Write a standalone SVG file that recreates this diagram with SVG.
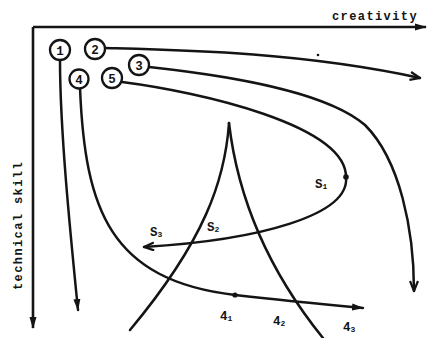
<svg xmlns="http://www.w3.org/2000/svg" width="430" height="338" viewBox="0 0 430 338">
<style>
.ln{fill:none;stroke:#141414;stroke-width:2.5;stroke-linecap:round}
.ax{fill:none;stroke:#141414;stroke-width:2.6}
.c{fill:#fff;stroke:#141414;stroke-width:2.3}
.t{font-family:"Liberation Mono",monospace;font-weight:bold;fill:#141414}
.lab{font-size:12px;letter-spacing:1.4px}
.num{font-size:12.5px;text-anchor:middle}
.sm{font-size:12.5px}
.sub{font-size:8px}
.dot{fill:#141414}
</style>
<defs>
<marker id="af" viewBox="0 0 12 8" refX="11" refY="4" markerWidth="12" markerHeight="8" markerUnits="userSpaceOnUse" orient="auto">
<path d="M0,0.5 L12,4 L0,7.5 z" fill="#141414"/>
</marker>
<marker id="ao" viewBox="0 0 12 10" refX="11" refY="5" markerWidth="12" markerHeight="10" markerUnits="userSpaceOnUse" orient="auto">
<path d="M1,1 L11,5 L1,9" fill="none" stroke="#141414" stroke-width="2.2"/>
</marker>
</defs>
<g id="axes">
<path class="ax" d="M33,27 L426,27" marker-end="url(#af)"/>
<path class="ax" d="M33,27 L33,328" marker-end="url(#af)"/>
<text class="t lab" x="332" y="20">creativity</text>
<text class="t lab" transform="translate(22,290) rotate(-90)" x="0" y="0">technical skill</text>
</g>
<g id="connectors">
<path class="ln" d="M60,60 C60,130 70,230 78,310" marker-end="url(#af)"/>
<path class="ln" d="M105,48 C180,50 300,52 420,78" marker-end="url(#ao)"/>
<circle class="dot" cx="318" cy="55" r="1.3"/>
<path class="ln" d="M149,67 C250,78 330,95 365,125 C400,160 414,230 414,291" marker-end="url(#ao)"/>
<path class="ln" d="M122,82 C200,92 346,125 346,177 C350,215 260,240 144,247" marker-end="url(#ao)"/>
<path class="ln" d="M80,88 C85,210 110,280 235,295 C270,299 320,304 363,308" marker-end="url(#af)"/>
<path class="ln" d="M229,123 C225,180 205,240 130,330"/>
<path class="ln" d="M229,123 C238,200 268,270 323,338"/>
<circle class="dot" cx="346" cy="177" r="2.8"/>
<circle class="dot" cx="235" cy="295" r="2.6"/>
</g>
<g id="n1"><circle class="c" cx="60" cy="50" r="10"/><text class="t num" x="60" y="54.5">1</text></g>
<g id="n2"><circle class="c" cx="95" cy="49" r="10"/><text class="t num" x="95" y="53.5">2</text></g>
<g id="n3"><circle class="c" cx="139" cy="65" r="10"/><text class="t num" x="139" y="69.5">3</text></g>
<g id="n4"><circle class="c" cx="79" cy="79" r="9.5"/><text class="t num" x="79" y="83.5">4</text></g>
<g id="n5"><circle class="c" cx="112" cy="78" r="10"/><text class="t num" x="112" y="82.5">5</text></g>
<g id="labels">
<text class="t sm" x="315" y="188">S<tspan class="sub" dy="1">1</tspan></text>
<text class="t sm" x="207" y="231">S<tspan class="sub" dy="1">2</tspan></text>
<text class="t sm" x="150" y="236">S<tspan class="sub" dy="1">3</tspan></text>
<text class="t sm" x="220" y="320">4<tspan class="sub" dy="1">1</tspan></text>
<text class="t sm" x="273" y="325">4<tspan class="sub" dy="1">2</tspan></text>
<text class="t sm" x="343" y="331">4<tspan class="sub" dy="1">3</tspan></text>
</g>
</svg>
